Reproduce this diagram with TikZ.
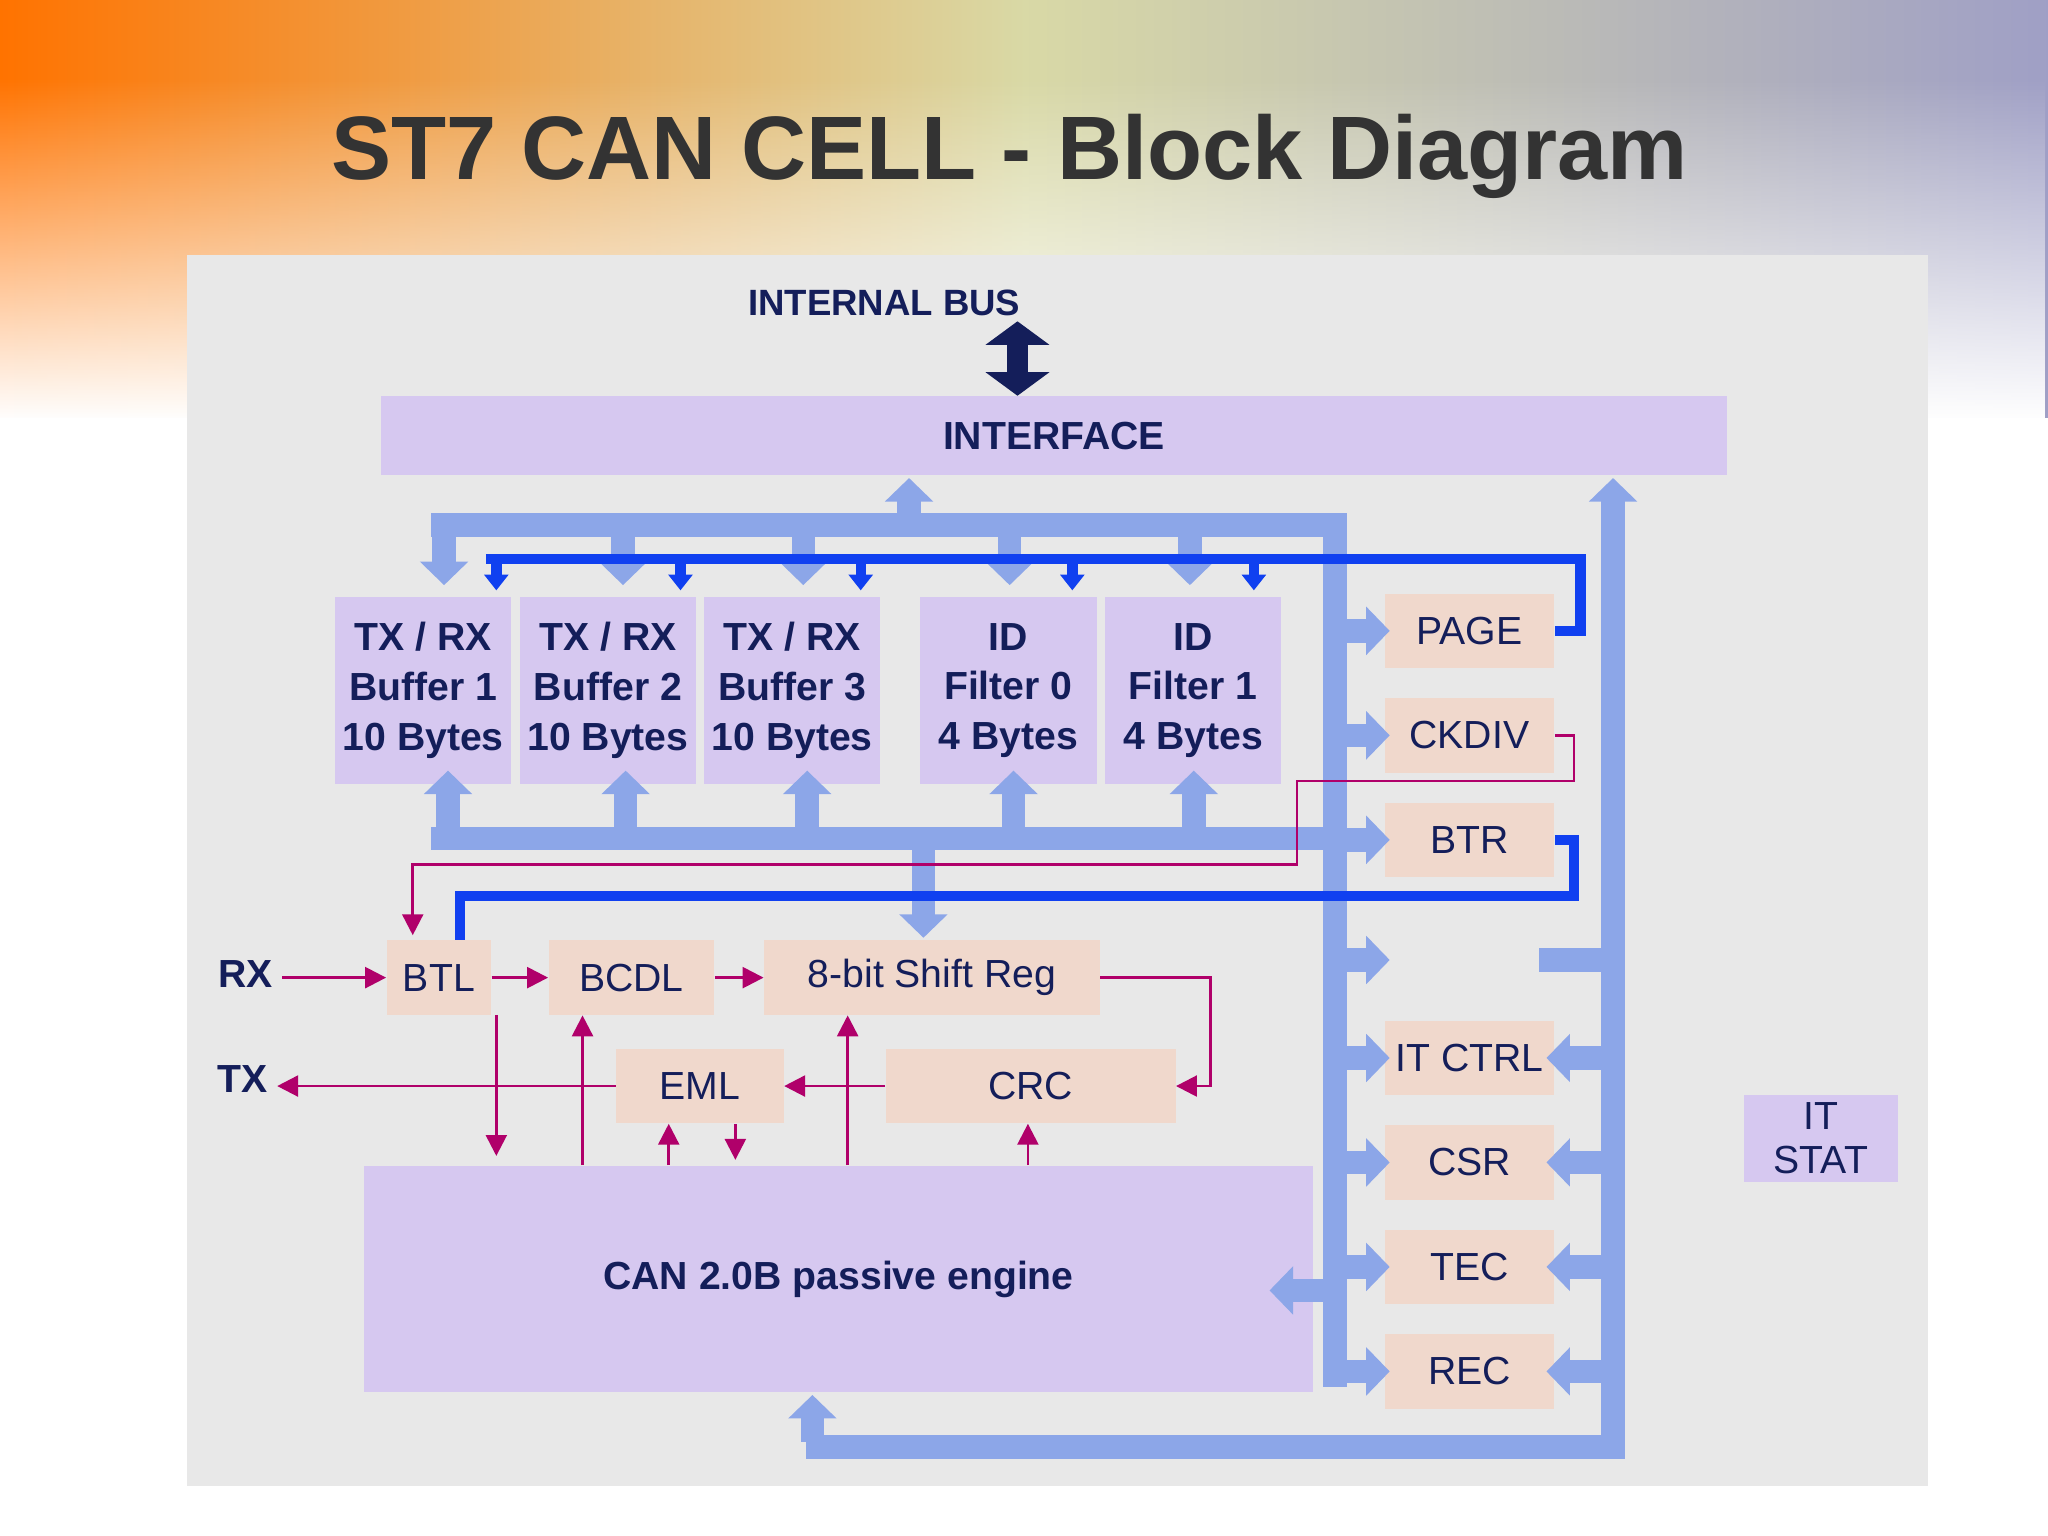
\documentclass[tikz,border=0pt]{standalone}
\usepackage{fontspec}
\setmainfont{Liberation Sans}
\usetikzlibrary{arrows.meta,fadings}
\definecolor{navy}{RGB}{20,30,90}
\definecolor{lav}{RGB}{214,200,240}
\definecolor{peach}{RGB}{240,216,204}
\definecolor{lblue}{RGB}{140,166,232}
\definecolor{dblue}{RGB}{16,64,240}
\definecolor{mag}{RGB}{176,0,106}
\tikzset{
  box/.style={fill=#1,draw=none,inner sep=0pt,text=navy,align=center,font=\fontsize{15}{19}\selectfont},
  bbox/.style={box=#1,font=\fontsize{15}{19}\selectfont\bfseries},
  bus/.style={draw=lblue,line width=9pt},
  fat/.style={-{Triangle[width=18pt,length=9pt]},draw=lblue,line width=9pt},
  dbus/.style={draw=dblue,line width=4pt},
  dtip/.style={-{Triangle[width=9pt,length=6pt]},draw=dblue,line width=4pt},
  sig/.style={draw=mag,line width=1pt,-{Triangle[width=8pt,length=8pt]}},
}
\begin{document}
\begin{tikzpicture}[x=0.5pt,y=-0.5pt]
\useasboundingbox (0,0) rectangle (1568,1176);
% background
\fill[white] (0,0) rectangle (1568,1176);
\shade[left color=orange!90!red,right color=blue!25!gray!60,middle color=yellow!40!gray!50] (0,0) rectangle (1568,320);
\fill[white,path fading=north] (0,60) rectangle (1568,322);
\node[font=\fontsize{34.5}{40}\selectfont\bfseries,text=black!80] (title) at (773,120) {ST7 CAN CELL - Block Diagram};
\fill[black!9] (143,195) rectangle (1476,1138);

% Text Node
\node[font=\fontsize{14}{17}\selectfont\bfseries,text=navy] (ibus) at (677,232) {INTERNAL BUS};
\draw[{Triangle[width=24pt,length=9pt]}-{Triangle[width=24pt,length=9pt]},navy,line width=8pt] (779,246) -- (779,303);
\node[bbox=lav,minimum width=515pt,minimum height=30.5pt] (iface) at (807,333.5) {INTERFACE};

% buffers and filters
\foreach \n/\x/\a/\b/\c in {b1/324/{TX / RX}/Buffer 1/10 Bytes,b2/465.5/{TX / RX}/Buffer 2/10 Bytes,b3/606.5/{TX / RX}/Buffer 3/10 Bytes,f0/772/ID/Filter 0/4 Bytes,f1/913.5/ID/Filter 1/4 Bytes}
  \node[bbox=lav,minimum width=67.5pt,minimum height=71.5pt] (\n) at (\x,528.5) {\a\\\b\\\c};

% registers
\foreach \n/\y/\t in {page/483/PAGE,ckdiv/563/CKDIV,btr/643/BTR,itctrl/810/IT CTRL,csr/890/CSR,tec/970/TEC,rec/1050/REC}
  \node[box=peach,minimum width=65pt,minimum height=28.5pt] (\n) at (1125,\y) {\t};
\node[box=lav,minimum width=59pt,minimum height=33.5pt,font=\fontsize{15}{17}\selectfont] (itstat) at (1394,871.5) {IT\\STAT};

% CAN core
\node[box=peach,minimum width=40pt,minimum height=28.5pt] (btl) at (336,748.5) {BTL};
\node[box=peach,minimum width=63.5pt,minimum height=28.5pt] (bcdl) at (483.5,748.5) {BCDL};
\node[box=peach,minimum width=128.5pt,minimum height=28.5pt] (shift) at (713.5,748.5) {8-bit Shift Reg};
\node[box=peach,minimum width=64pt,minimum height=28.5pt] (eml) at (536,831.5) {EML};
\node[box=peach,minimum width=111pt,minimum height=28.5pt] (crc) at (789,831.5) {CRC};
\node[bbox=lav,minimum width=363pt,minimum height=86.5pt] (engine) at (642,979.5) {CAN 2.0B passive engine};
\node[font=\fontsize{15}{18}\selectfont\bfseries,text=navy] (rx) at (188,746) {RX};
\node[font=\fontsize{15}{18}\selectfont\bfseries,text=navy] (tx) at (186,826) {TX};

% light blue buses
\draw[bus] (330,402) -- (1031,402);
\draw[bus] (1022,393) -- (1022,1062);
\draw[bus] (1235,1108) -- (1235,395);
\draw[fat] (1235,400) -- (1235,366);
\draw[bus] (617,1108) -- (1244,1108);
\draw[fat] (622,1104) -- (622,1068);
\draw[fat] (696,402) -- (696,366);
\foreach \x in {340,477,615,773,911} \draw[fat] (\x,398) -- (\x,448);
\draw[bus] (330,642) -- (1031,642);
\foreach \x in {343,479,618,776,914} \draw[fat] (\x,648) -- (\x,590);
\draw[fat] (707,646) -- (707,718);
\foreach \y in {483,563,643,735,810,890,970,1050} \draw[fat] (1030,\y) -- (1064,\y);
\foreach \y in {810,890,970,1050} \draw[fat] (1226,\y) -- (1184,\y);
\draw[bus] (1226,735) -- (1178,735);
\draw[fat] (1018,988) -- (972,988);

% dark blue buses
\draw[dbus] (372,428) -- (1210,428) -- (1210,483) -- (page.east);
\foreach \x in {380,521,659,821,960} \draw[dtip] (\x,426) -- (\x,452);
\draw[dbus] (btr.east) -- (1205,643) -- (1205,686) -- (352,686) -- (352,720);

% signals
\draw[sig] (ckdiv.east) -- (1205,563) -- (1205,598) -- (993,598) -- (993,662) -- (316,662) -- (316,716);
\draw[sig] (rx.east |- btl.west) -- (btl.west);
\draw[sig] (btl.east) -- (bcdl.west);
\draw[sig] (bcdl.east) -- (bcdl.east -| shift.west);
\draw[sig] (shift.east) -- (927,748.5) -- (927,831.5) -- (crc.east);
\draw[sig] (crc.west) -- (eml.east);
\draw[sig] (eml.west) -- (eml.west -| tx.east);
\draw[sig] (380,777) -- (380,885);
\draw[sig] (446,892) -- (bcdl.south -| 446,0);
\draw[sig] (512,892) -- (eml.south -| 512,0);
\draw[sig] (eml.south -| 563,0) -- (563,888);
\draw[sig] (649,892) -- (shift.south -| 649,0);
\draw[sig] (787,892) -- (crc.south -| 787,0);
\end{tikzpicture}
\end{document}
